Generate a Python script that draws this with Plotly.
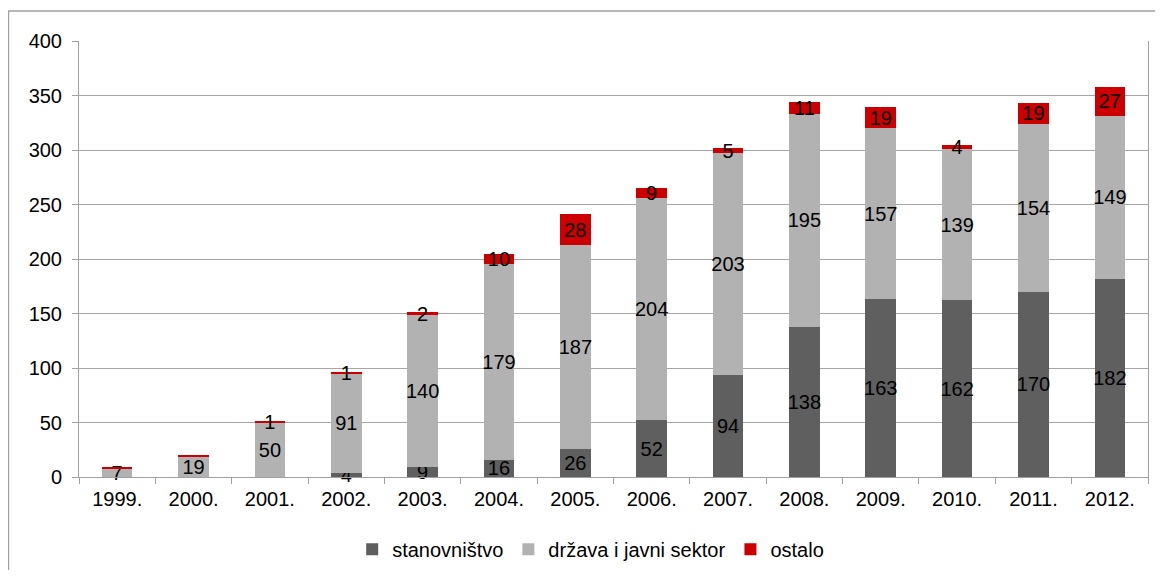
import plotly.graph_objects as go

years = ["1999.", "2000.", "2001.", "2002.", "2003.", "2004.", "2005.",
         "2006.", "2007.", "2008.", "2009.", "2010.", "2011.", "2012."]
stanovnistvo = [0, 0, 0, 4, 9, 16, 26, 52, 94, 138, 163, 162, 170, 182]
drzava = [7, 19, 50, 91, 140, 179, 187, 204, 203, 195, 157, 139, 154, 149]
ostalo = [2, 1, 1, 1, 2, 10, 28, 9, 5, 11, 19, 4, 19, 27]
# labels that were not shown on the chart
ostalo_hidden = {"1999.", "2000."}

FONT = "Liberation Sans, Arial, sans-serif"


def labels(vals, hide=()):
    out = []
    for y, v in zip(years, vals):
        out.append("" if v == 0 or y in hide else str(v))
    return out


series = [
    ("stanovništvo", stanovnistvo, "#5f5f5f", labels(stanovnistvo)),
    ("država i javni sektor", drzava, "#b2b2b2", labels(drzava)),
    ("ostalo", ostalo, "#cc0000", labels(ostalo, ostalo_hidden)),
]

fig = go.Figure()
for name, vals, color, txt in series:
    fig.add_trace(go.Bar(
        x=years, y=vals, name=name,
        marker=dict(color=color, line=dict(width=0)),
        text=txt, textposition="inside", insidetextanchor="middle",
        textangle=0, constraintext="none", cliponaxis=False,
        textfont=dict(family=FONT, size=20, color="black"),
        hoverinfo="x+y+name",
    ))

# page body has an 8px margin, so the figure is 16px smaller than the window
fig.update_layout(
    barmode="stack",
    bargap=0.6,
    width=1147, height=562,
    margin=dict(l=71, r=7, t=33, b=93, autoexpand=False),
    paper_bgcolor="white", plot_bgcolor="white",
    font=dict(family=FONT, size=20, color="black"),
    uniformtext=dict(mode="show", minsize=20),
    legend=dict(orientation="h", xref="container", yref="container",
                x=0.508, xanchor="center", y=0.037, yanchor="middle",
                font=dict(size=20), itemwidth=30, traceorder="normal"),
    xaxis=dict(showline=True, linecolor="#a0a0a0", linewidth=1, automargin=False,
               ticks="outside", ticklen=6, tickcolor="#a0a0a0", tickson="boundaries",
               ticklabelstandoff=4, tickfont=dict(size=20)),
    yaxis=dict(range=[0, 400], dtick=50, showgrid=True, gridcolor="#a6a6a6",
               showline=True, linecolor="#a0a0a0", mirror=True, automargin=False,
               ticks="outside", ticklen=6, tickcolor="#a0a0a0",
               ticklabelstandoff=6, tickfont=dict(size=20), zeroline=False),
    shapes=[dict(type="rect", xref="paper", yref="paper",
                 x0=-0.066, x1=1.05, y0=-0.4, y1=1.069,
                 line=dict(color="#a0a0a0", width=1.5), layer="below")],
)

fig.write_html("out.html")
